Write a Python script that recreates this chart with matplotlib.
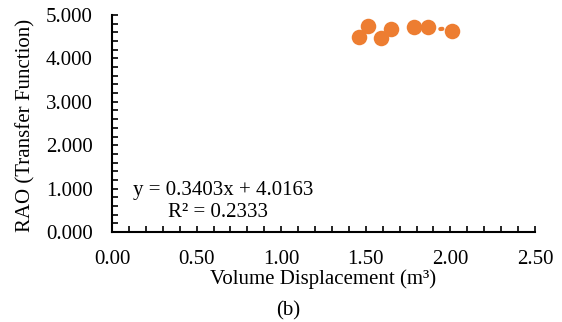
import matplotlib.pyplot as plt
import numpy as np
from matplotlib.ticker import MultipleLocator, FormatStrFormatter

plt.rcParams['font.family'] = 'Liberation Serif'

volume = [1.462, 1.515, 1.588, 1.647, 1.785, 1.866, 2.011]
rao = [4.50, 4.747, 4.46, 4.68, 4.73, 4.73, 4.64]
slope = 0.3403
intercept = 4.0163

fig = plt.figure(figsize=(5.62, 3.22), dpi=100)
ax = fig.add_axes([112/562, 1-232/322, (535-112)/562, (232-15)/322])

# dotted linear trendline
xt = np.linspace(min(volume), max(volume), 50)
ax.plot(xt, slope*xt + intercept, color='#ED7D31', linestyle=(0, (0.5, 6)),
        linewidth=3, dash_capstyle='round', zorder=2)
ax.scatter(volume, rao, s=125, color='#ED7D31', zorder=3, linewidths=0)

ax.set_xlim(0, 2.5)
ax.set_ylim(0, 5)
ax.xaxis.set_major_locator(MultipleLocator(0.5))
ax.xaxis.set_minor_locator(MultipleLocator(0.1))
ax.yaxis.set_major_locator(MultipleLocator(1))
ax.yaxis.set_minor_locator(MultipleLocator(0.2))
ax.xaxis.set_major_formatter(FormatStrFormatter('%.2f'))
ax.yaxis.set_major_formatter(FormatStrFormatter('%.3f'))
ax.tick_params(which='both', direction='in', length=4, width=1.2, labelsize=15)
ax.tick_params(axis='x', pad=13)
ax.tick_params(axis='y', pad=14)
for s in ['top', 'right']:
    ax.spines[s].set_visible(False)
for s in ['left', 'bottom']:
    ax.spines[s].set_linewidth(1.5)

ax.set_xlabel('Volume Displacement (m³)', fontsize=15)
ax.set_ylabel('RAO (Transfer Function)', fontsize=15)
ax.xaxis.set_label_coords(0.5, -0.17)
ax.yaxis.set_label_coords(-0.182, 0.49)

ax.text(0.05, 0.19, 'y = 0.3403x + 4.0163', fontsize=15, va='center',
        transform=ax.transAxes)
ax.text(0.132, 0.088, 'R² = 0.2333', fontsize=15, va='center',
        transform=ax.transAxes)

fig.text(288/562, 1-311/322, '(b)', fontsize=15, ha='center', va='center')

fig.savefig('out.png', dpi=100)
